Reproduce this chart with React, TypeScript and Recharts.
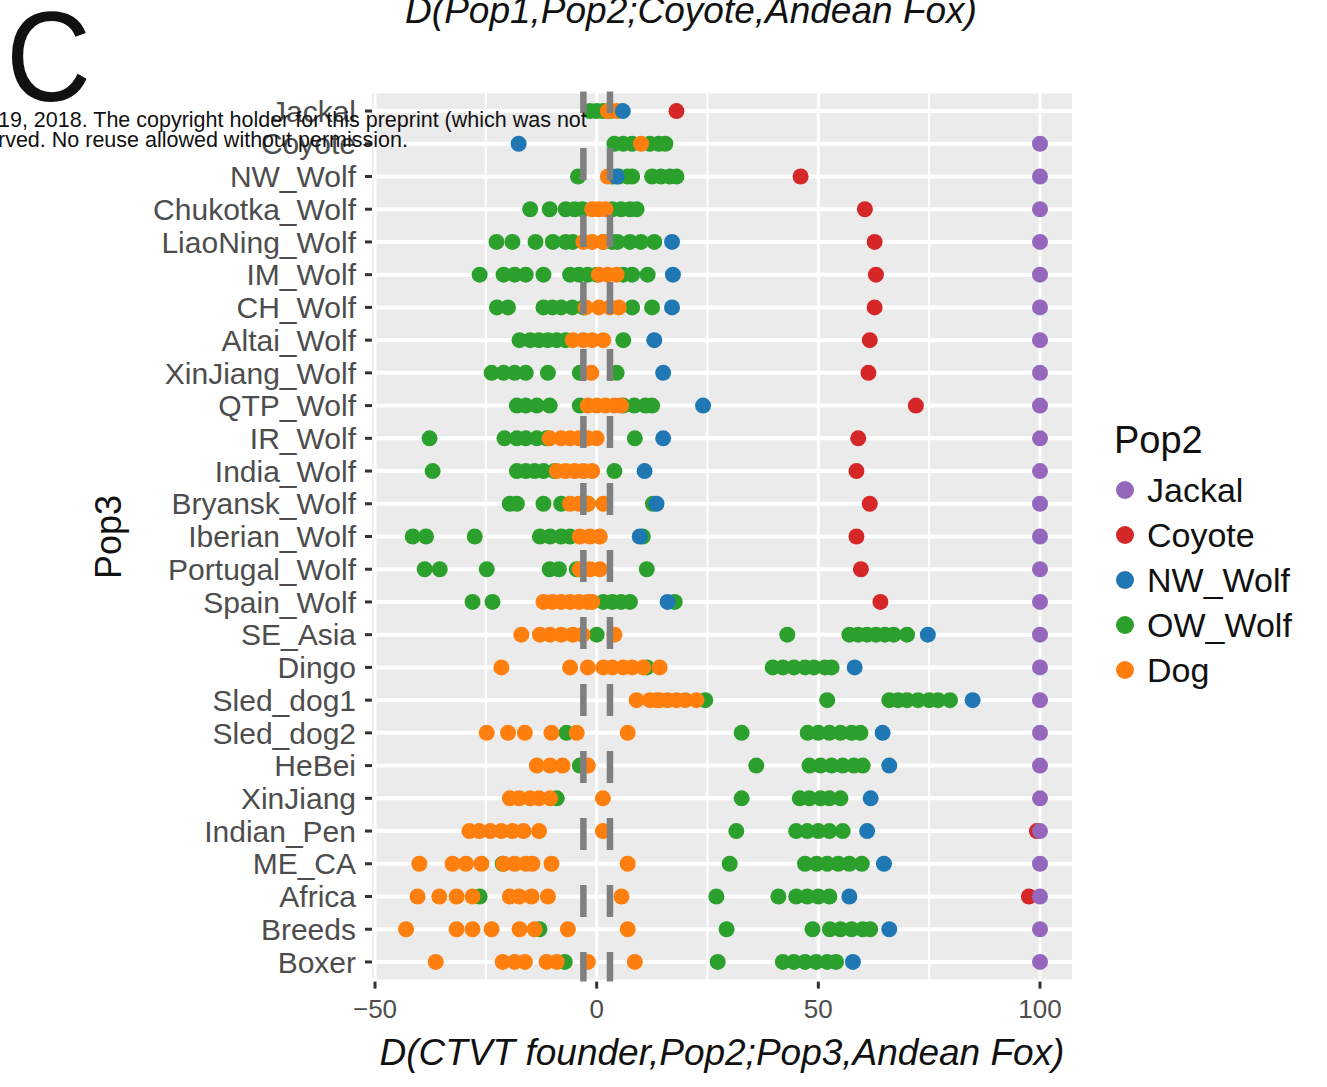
import {
  ScatterChart,
  Scatter,
  XAxis,
  YAxis,
  CartesianGrid,
  ReferenceLine,
} from "recharts";

const rows = [
  "Jackal", "Coyote", "NW_Wolf", "Chukotka_Wolf", "LiaoNing_Wolf", "IM_Wolf",
  "CH_Wolf", "Altai_Wolf", "XinJiang_Wolf", "QTP_Wolf", "IR_Wolf", "India_Wolf",
  "Bryansk_Wolf", "Iberian_Wolf", "Portugal_Wolf", "Spain_Wolf", "SE_Asia", "Dingo",
  "Sled_dog1", "Sled_dog2", "HeBei", "XinJiang", "Indian_Pen", "ME_CA", "Africa",
  "Breeds", "Boxer",
];

const xTicks = [-50, 0, 50, 100];
const minorTicks = [-25, 25, 75];
const founderBounds = [-3, 3];

// one value per row (null = not drawn)
const jackalVals = [
  null, 100, 100, 100, 100, 100, 100, 100, 100, 100, 100, 100, 100, 100,
  100, 100, 100, 100, 100, 100, 100, 100, 100, 100, 100, 100, 100,
];
const coyoteVals = [
  18, null, 46, 60.5, 62.7, 63, 62.7, 61.6, 61.3, 72, 59, 58.6, 61.6, 58.6,
  59.6, 64, null, null, null, null, null, null, 99.3, null, 97.5, null, null,
];
const nwWolfVals = [
  5.9, -17.6, 4.5, null, 17, 17.2, 17, 13, 15, 24, 15, 10.8, 13.5, 9.7,
  null, 16, 74.7, 58.2, 84.8, 64.5, 66, 61.8, 61, 64.8, 57, 66, 57.8,
];

// several values per row
const owWolfVals = [
  [-1.5, 0, 1.5, 3],
  [4, 6, 8, 12, 14, 15.5],
  [-4.2, 3.5, 5, 7, 8, 12.5, 14.5, 16.5, 18],
  [-15, -10.6, -7, -5, -3.2, 3.5, 5.5, 7.5, 9],
  [-22.6, -19, -13.8, -9.9, -7, -5.4, 1.5, 3.5, 4.7, 7.5, 10, 13],
  [-26.4, -21, -18.5, -16, -12, -6, -4, -2, 0, 6, 8, 11.5],
  [-22.5, -20, -12, -10, -8, -5.5, -3, 8, 12.5],
  [-17.4, -15, -13, -11, -9, -7, 6],
  [-23.7, -21, -18.5, -16, -11, -3.8, 4.5],
  [-18, -16, -13.5, -10.6, -3.8, 6, 8.5, 11, 12.5],
  [-37.7, -20.8, -18, -16, -13.5, -11.3, 8.6],
  [-37, -18, -16, -14, -12, -9.5, 4],
  [-19.6, -18, -12, -8, -2, 12.7],
  [-41.5, -38.5, -27.5, -12.8, -10.5, -8, -6, 10.4],
  [-38.8, -35.4, -24.8, -10.6, -8.5, -4.5, 11.3],
  [-28, -23.5, 1.5, 3.5, 5.5, 7.5, 17.6],
  [0, 43, 57, 59, 61, 63, 65, 67, 70],
  [11.3, 39.7, 42, 44.5, 47, 49, 51.5, 53],
  [24.5, 52, 66, 68, 70, 72.5, 75, 77, 79.7],
  [-6.8, 32.7, 47.6, 50, 52.5, 55, 57.5, 59.5],
  [-3.8, 36, 48, 50.5, 53, 55.5, 58, 60],
  [-9, 32.7, 45.8, 48, 50.5, 52.5, 55],
  [31.5, 45, 47.5, 50, 52.5, 55.5],
  [-21.2, 30, 47, 49.6, 52, 54.5, 57, 59.8],
  [-26.4, 27, 41, 45, 47.5, 50, 52.5],
  [-12.9, 29.3, 48.7, 52.6, 55, 57.5, 60, 61.7],
  [-7.2, 27.3, 42, 44.5, 47, 49.5, 52, 54],
];
const dogVals = [
  [2.5, 4.5],
  [10],
  [2.5],
  [-1, 0.5, 2],
  [-3, -1, 1.4],
  [0.5, 2.5, 4.5],
  [-2.5, 0.5, 3, 5],
  [-5.4, -3, -1, 1.5],
  [-1.2],
  [-2, 0, 2, 4, 5.5],
  [-10.6, -8, -6, -4, -2, 0],
  [-9, -7, -5, -3, -1],
  [-6, -4, -2, 1.5],
  [-3.8, -1.5, 0.7],
  [-3.8, -1.5, 0.7],
  [-12, -10, -8, -6, -4, -2, -1],
  [-17, -12.8, -10.5, -8, -5.4, -3.2, 4],
  [-21.5, -6, -2, 1.5, 3.5, 6, 8, 10.5, 14.2],
  [9, 12, 13.5, 14.2, 16, 18, 20, 22.5],
  [-24.8, -20, -16.2, -10.2, -4.5, 7],
  [-13.5, -10.5, -7.7, -2],
  [-19.6, -17.5, -15, -13, -10.5, 1.4],
  [-28.7, -26.5, -24, -21.5, -19, -16.5, -13, 1.4],
  [-40, -32.5, -29.5, -26, -21, -18.5, -16, -14.5, -10.2, 7],
  [-40.4, -35.5, -31.6, -28, -19.6, -17.5, -14.7, -11, 5.6],
  [-43, -31.6, -28, -23.7, -17.4, -14, -6.5, 7],
  [-36.3, -21.2, -18.5, -16.2, -11.3, -9, -2, 8.6],
];

const legendNames = ["Jackal", "Coyote", "NW_Wolf", "OW_Wolf", "Dog"];
const colors: Record<string, string> = {
  Jackal: "#9467BD",
  Coyote: "#D62728",
  NW_Wolf: "#1F77B4",
  OW_Wolf: "#2CA02C",
  Dog: "#FF7F0E",
};

const single = (vals: (number | null)[]) =>
  vals.flatMap((v, i) => (v === null ? [] : [{ x: v, y: i }]));
const multi = (vals: number[][]) =>
  vals.flatMap((list, i) => list.map((v) => ({ x: v, y: i })));

const font = '"Liberation Sans", Arial, Helvetica, sans-serif';

const dot = (color: string) => (p: any) =>
  <circle cx={p.cx} cy={p.cy} r={8} fill={color} />;

const dashed = (p: any) => (
  <line
    x1={p.x1}
    x2={p.x2}
    y1={Math.min(p.y1, p.y2)}
    y2={Math.max(p.y1, p.y2)}
    stroke="#7F7F7F"
    strokeWidth={6.5}
    strokeDasharray="32 35"
    strokeDashoffset={10.4}
  />
);

const fmtX = (v: number) => (v < 0 ? "\u2212" + Math.abs(v) : String(v));

export default function App() {
  return (
    <div
      style={{
        position: "absolute",
        left: 0,
        top: 0,
        width: 1327,
        height: 1087,
        background: "#fff",
        fontFamily: font,
        overflow: "hidden",
      }}
    >
      <ScatterChart
        width={1327}
        height={1087}
        margin={{ top: 91.4, right: 255, bottom: 45.4, left: 0 }}
      >
        <CartesianGrid
          vertical={false}
          fill="#EBEBEB"
          stroke="#FFFFFF"
          strokeWidth={4}
        />
        {minorTicks.map((t) => (
          <ReferenceLine key={"m" + t} x={t} stroke="#FFFFFF" strokeWidth={2} />
        ))}
        {xTicks.map((t) => (
          <ReferenceLine key={"M" + t} x={t} stroke="#FFFFFF" strokeWidth={3} />
        ))}
        <XAxis
          type="number"
          dataKey="x"
          domain={[-50.68, 107.22]}
          allowDataOverflow
          ticks={xTicks}
          tickFormatter={fmtX}
          axisLine={false}
          tickSize={7}
          tickMargin={11}
          tickLine={{ stroke: "#333333", strokeWidth: 3 }}
          tick={{ fill: "#4D4D4D", fontSize: 26, fontFamily: font }}
          height={60}
        />
        <YAxis
          type="number"
          dataKey="y"
          domain={[-0.6, 26.6]}
          reversed
          allowDataOverflow
          ticks={rows.map((_, i) => i)}
          interval={0}
          tickFormatter={(i: number) => rows[i]}
          axisLine={false}
          tickSize={7}
          tickMargin={9}
          tickLine={{ stroke: "#333333", strokeWidth: 3 }}
          tick={{ fill: "#4D4D4D", fontSize: 30, fontFamily: font }}
          width={372}
        />
        <Scatter
          data={multi(owWolfVals)}
          isAnimationActive={false}
          shape={dot(colors.OW_Wolf)}
        />
        <Scatter
          data={multi(dogVals)}
          isAnimationActive={false}
          shape={dot(colors.Dog)}
        />
        <Scatter
          data={single(nwWolfVals)}
          isAnimationActive={false}
          shape={dot(colors.NW_Wolf)}
        />
        <Scatter
          data={single(coyoteVals)}
          isAnimationActive={false}
          shape={dot(colors.Coyote)}
        />
        <Scatter
          data={single(jackalVals)}
          isAnimationActive={false}
          shape={dot(colors.Jackal)}
        />
        {founderBounds.map((b) => (
          <ReferenceLine key={"f" + b} x={b} shape={dashed} zIndex={900} />
        ))}
      </ScatterChart>

      {/* panel letter and preprint stamp */}
      <div
        style={{
          position: "absolute",
          left: 6,
          top: -7,
          fontSize: 128,
          lineHeight: "128px",
          color: "#111",
          transform: "scaleX(0.92)",
          transformOrigin: "left top",
        }}
      >
        C
      </div>
      <div
        style={{
          position: "absolute",
          left: -2,
          top: 109.5,
          fontSize: 21.5,
          lineHeight: "20px",
          color: "#111",
          whiteSpace: "nowrap",
        }}
      >
        19, 2018. The copyright holder for this preprint (which was not
        <br />
        rved. No reuse allowed without permission.
      </div>

      {/* titles */}
      <div
        style={{
          position: "absolute",
          left: 691,
          top: -10,
          transform: "translateX(-50%)",
          fontSize: 37,
          fontStyle: "italic",
          whiteSpace: "nowrap",
          color: "#111",
        }}
      >
        D(Pop1,Pop2;Coyote,Andean Fox)
      </div>
      <div
        style={{
          position: "absolute",
          left: 722,
          top: 1032,
          transform: "translateX(-50%)",
          fontSize: 37,
          fontStyle: "italic",
          whiteSpace: "nowrap",
          color: "#111",
        }}
      >
        D(CTVT founder,Pop2;Pop3,Andean Fox)
      </div>
      <div
        style={{
          position: "absolute",
          left: 109,
          top: 537,
          transform: "translate(-50%, -50%) rotate(-90deg)",
          fontSize: 36,
          whiteSpace: "nowrap",
          color: "#111",
        }}
      >
        Pop3
      </div>

      {/* legend */}
      <div
        style={{
          position: "absolute",
          left: 1114,
          top: 440,
          transform: "translateY(-50%)",
          fontSize: 38,
          color: "#111",
          whiteSpace: "nowrap",
        }}
      >
        Pop2
      </div>
      {legendNames.map((n, i) => (
        <div
          key={n}
          style={{
            position: "absolute",
            left: 1116,
            top: 490 + i * 45 - 22.5,
            height: 45,
            display: "flex",
            alignItems: "center",
            fontSize: 34,
            color: "#111",
            whiteSpace: "nowrap",
          }}
        >
          <span
            style={{
              display: "inline-block",
              width: 18,
              height: 18,
              borderRadius: "50%",
              background: colors[n],
              marginRight: 13,
            }}
          />
          {n}
        </div>
      ))}
    </div>
  );
}
